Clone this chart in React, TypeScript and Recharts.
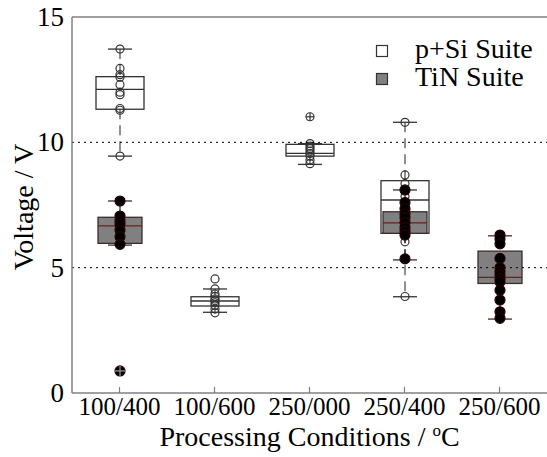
import React from 'react';
import { ComposedChart, Bar, XAxis, YAxis, ReferenceLine, Legend } from 'recharts';

const categories = ['100/400', '100/600', '250/000', '250/400', '250/600'];
const yTicks = [0, 5, 10, 15];
const gridValues = [5, 10];
const seriesNames = ['p+Si Suite', 'TiN Suite'];

// p+Si Suite box statistics
const pSiLow = [9.45, 3.22, 9.12, 3.84, null];
const pSiQ1 = [11.32, 3.47, 9.45, 6.37, null];
const pSiMedian = [12.11, 3.67, 9.56, 7.7, null];
const pSiQ3 = [12.62, 3.84, 9.92, 8.47, null];
const pSiHigh = [13.72, 4.15, 9.95, 10.8, null];

// TiN Suite box statistics
const tinLow = [5.9, null, null, 5.31, 2.95];
const tinQ1 = [5.97, null, null, 6.37, 4.37];
const tinMedian = [6.67, null, null, 6.79, 4.61];
const tinQ3 = [7.01, null, null, 7.23, 5.66];
const tinHigh = [7.66, null, null, 8.1, 6.27];

// individual measurements
const pSiPoints = [
  [13.72, 12.95, 12.7, 12.6, 12.3, 12.0, 11.9, 11.35, 11.28, 9.45],
  [4.55, 4.15, 3.95, 3.85, 3.75, 3.68, 3.6, 3.5, 3.35, 3.2],
  [9.95, 9.85, 9.75, 9.65, 9.55, 9.45, 9.3, 9.15],
  [10.8, 8.7, 8.35, 7.85, 6.75, 6.03, 3.85],
  [],
];
const pSiOutliers = [[], [], [11.02], [], []];

const tinPoints = [
  [7.66, 7.06, 6.87, 6.74, 6.5, 6.23, 5.93],
  [],
  [],
  [8.1, 7.6, 7.35, 7.15, 7.0, 6.8, 6.6, 6.45, 6.3, 5.35],
  [6.3, 6.15, 5.95, 5.37, 5.0, 4.85, 4.7, 4.55, 4.44, 4.1, 3.71, 3.24, 2.98],
];
const tinOutliers = [[0.88], [], [], [], []];

const FONT = 'Liberation Serif, Times New Roman, serif';

const statsAt = (lo, q1, med, q3, hi, i) =>
  lo[i] == null ? null : { low: lo[i], q1: q1[i], median: med[i], q3: q3[i], high: hi[i] };

const rangeOf = (arr) => (arr.length ? [Math.min(...arr), Math.max(...arr)] : null);

const rows = categories.map((cat, i) => {
  const pAll = [...pSiPoints[i], ...pSiOutliers[i]];
  const tAll = [...tinPoints[i], ...tinOutliers[i]];
  const pStats = statsAt(pSiLow, pSiQ1, pSiMedian, pSiQ3, pSiHigh, i);
  const tStats = statsAt(tinLow, tinQ1, tinMedian, tinQ3, tinHigh, i);
  return {
    cat,
    pSiStats: pStats,
    tinStats: tStats,
    pSiBox: pStats ? [pStats.low, pStats.high] : null,
    tinBox: tStats ? [tStats.low, tStats.high] : null,
    pSiPts: rangeOf(pAll),
    tinPts: rangeOf(tAll),
    pSiPtList: pSiPoints[i],
    pSiOutList: pSiOutliers[i],
    tinPtList: tinPoints[i],
    tinOutList: tinOutliers[i],
  };
});

// maps a value to pixels using the bar's own scaled extent
const mapper = (props, range) => {
  const { y, height } = props;
  const top = Math.min(y, y + height);
  const bot = Math.max(y, y + height);
  const [lo, hi] = range;
  const span = hi - lo;
  return (v) => (span === 0 ? top : top + ((hi - v) / span) * (bot - top));
};

const makeBoxShape = (key, rangeKey, st) => (props) => {
  const { x, width, payload } = props;
  const s = payload && payload[key];
  const r = payload && payload[rangeKey];
  if (!s || !r || props.y == null || isNaN(props.y)) return <g />;
  const py = mapper(props, r);
  const cx = x + width / 2;
  const capHalf = 12;
  return (
    <g>
      <line x1={cx} x2={cx} y1={py(s.high)} y2={py(s.q3)} stroke={st.whisker} strokeWidth={1.3} strokeDasharray="10 6" />
      <line x1={cx} x2={cx} y1={py(s.q1)} y2={py(s.low)} stroke={st.whisker} strokeWidth={1.3} strokeDasharray="10 6" />
      <line x1={cx - capHalf} x2={cx + capHalf} y1={py(s.high)} y2={py(s.high)} stroke={st.cap} strokeWidth={1.3} />
      <line x1={cx - capHalf} x2={cx + capHalf} y1={py(s.low)} y2={py(s.low)} stroke={st.cap} strokeWidth={1.3} />
      <rect x={x} y={py(s.q3)} width={width} height={py(s.q1) - py(s.q3)} fill={st.fill} stroke={st.stroke} strokeWidth={1.3} />
      <line x1={x} x2={x + width} y1={py(s.median)} y2={py(s.median)} stroke={st.median} strokeWidth={1.3} />
    </g>
  );
};

const makePointShape = (listKey, outKey, rangeKey, st) => (props) => {
  const { x, width, payload } = props;
  const r = payload && payload[rangeKey];
  if (!r || props.y == null || isNaN(props.y)) return <g />;
  const py = mapper(props, r);
  const cx = x + width / 2;
  return (
    <g>
      {payload[listKey].map((v, k) => (
        <circle key={'p' + k} cx={cx} cy={py(v)} r={st.r} fill={st.fill} stroke={st.stroke} strokeWidth={1.2} />
      ))}
      {payload[outKey].map((v, k) => (
        <g key={'o' + k}>
          <circle cx={cx} cy={py(v)} r={st.r} fill={st.fill} stroke={st.stroke} strokeWidth={1.2} />
          <line x1={cx - st.r} x2={cx + st.r} y1={py(v)} y2={py(v)} stroke={st.plus} strokeWidth={1.2} />
          <line x1={cx} x2={cx} y1={py(v) - st.r} y2={py(v) + st.r} stroke={st.plus} strokeWidth={1.2} />
        </g>
      ))}
    </g>
  );
};

const pSiBoxShape = makeBoxShape('pSiStats', 'pSiBox', {
  fill: '#ffffff', stroke: '#333333', median: '#333333', whisker: '#555555', cap: '#333333',
});
const tinBoxShape = makeBoxShape('tinStats', 'tinBox', {
  fill: '#808080', stroke: '#3d2b2b', median: '#6b1f1f', whisker: '#3d2b2b', cap: '#3d2b2b',
});
const pSiPointShape = makePointShape('pSiPtList', 'pSiOutList', 'pSiPts', {
  r: 4, fill: 'none', stroke: '#333333', plus: '#333333',
});
const tinPointShape = makePointShape('tinPtList', 'tinOutList', 'tinPts', {
  r: 5, fill: '#000000', stroke: '#2a0000', plus: '#9a9a9a',
});

const XTick = (props) => {
  const { x, y, payload } = props;
  return (
    <g>
      <line x1={x} x2={x} y1={y} y2={y - 6} stroke="#808080" strokeWidth={1.2} />
      <text x={x} y={y + 22} textAnchor="middle" fontSize={25} fill="#000" fontFamily={FONT}>
        {payload.value}
      </text>
    </g>
  );
};

const YTick = (props) => {
  const { x, y, payload } = props;
  return (
    <text x={x - 8} y={y + 9} textAnchor="end" fontSize={27} fill="#000" fontFamily={FONT}>
      {payload.value}
    </text>
  );
};

const YLabel = (props) => {
  const vb = props.viewBox || { x: 0, y: 17, width: 72, height: 376 };
  const cx = vb.x + 33;
  const cy = vb.y + vb.height / 2 + 2;
  return (
    <text x={cx} y={cy} transform={`rotate(-90, ${cx}, ${cy})`} textAnchor="middle" fontSize={28} fill="#000" fontFamily={FONT}>
      Voltage / V
    </text>
  );
};

const XLabel = (props) => {
  const vb = props.viewBox || { x: 72, y: 393, width: 475, height: 64 };
  const cx = vb.x + vb.width / 2;
  const cy = vb.y + 53;
  return (
    <text x={cx} y={cy} textAnchor="middle" fontSize={28} fill="#000" fontFamily={FONT}>
      Processing Conditions / <tspan fontSize={17} dy={-10}>o</tspan>
      <tspan fontSize={28} dy={10}>C</tspan>
    </text>
  );
};

const LegendBox = () => (
  <svg width={175} height={64} style={{ display: 'block' }}>
    <rect x={6.5} y={15.5} width={11} height={11} fill="#ffffff" stroke="#333333" strokeWidth={1.2} />
    <text x={45} y={28} fontSize={28} fill="#000" fontFamily={FONT}>{seriesNames[0]}</text>
    <rect x={6.5} y={43.5} width={11} height={11} fill="#808080" stroke="#333333" strokeWidth={1.2} />
    <text x={45} y={56} fontSize={28} fill="#000" fontFamily={FONT}>{seriesNames[1]}</text>
  </svg>
);

export default function App() {
  return (
    <div style={{ position: 'absolute', left: 0, top: 0, background: '#fff' }}>
      <ComposedChart
        width={547}
        height={457}
        data={rows}
        margin={{ top: 17, right: 0, bottom: 0, left: 0 }}
        style={{ fontFamily: FONT }}
      >
        <XAxis
          xAxisId="p"
          dataKey="cat"
          height={64}
          axisLine={{ stroke: '#808080', strokeWidth: 1.5 }}
          tickLine={false}
          tickSize={0}
          tickMargin={0}
          tick={<XTick />}
          interval={0}
          label={<XLabel />}
        />
        <XAxis xAxisId="t" dataKey="cat" hide />
        <XAxis xAxisId="pp" dataKey="cat" hide />
        <XAxis xAxisId="tp" dataKey="cat" hide />
        <YAxis
          type="number"
          domain={[0, 15]}
          ticks={yTicks}
          width={72}
          axisLine={{ stroke: '#808080', strokeWidth: 1.5 }}
          tickLine={false}
          tickSize={0}
          tickMargin={0}
          tick={<YTick />}
          interval={0}
          label={<YLabel />}
        />
        <Legend
          layout="vertical"
          align="center"
          verticalAlign="middle"
          wrapperStyle={{ position: 'absolute', left: 370, top: 30, width: 175, height: 64 }}
          content={() => <LegendBox />}
        />
        <Bar xAxisId="p" dataKey="pSiBox" barSize={48} shape={pSiBoxShape} isAnimationActive={false} legendType="none" />
        <Bar xAxisId="t" dataKey="tinBox" barSize={44} shape={tinBoxShape} isAnimationActive={false} legendType="none" />
        <Bar xAxisId="pp" dataKey="pSiPts" barSize={24} shape={pSiPointShape} isAnimationActive={false} legendType="none" />
        <Bar xAxisId="tp" dataKey="tinPts" barSize={24} shape={tinPointShape} isAnimationActive={false} legendType="none" />
        {gridValues.map((v) => (
          <ReferenceLine key={v} xAxisId="p" y={v} stroke="#000" strokeWidth={1} strokeDasharray="2 4" />
        ))}
        <ReferenceLine xAxisId="p" y={15} stroke="#808080" strokeWidth={1.5} />
      </ComposedChart>
    </div>
  );
}
